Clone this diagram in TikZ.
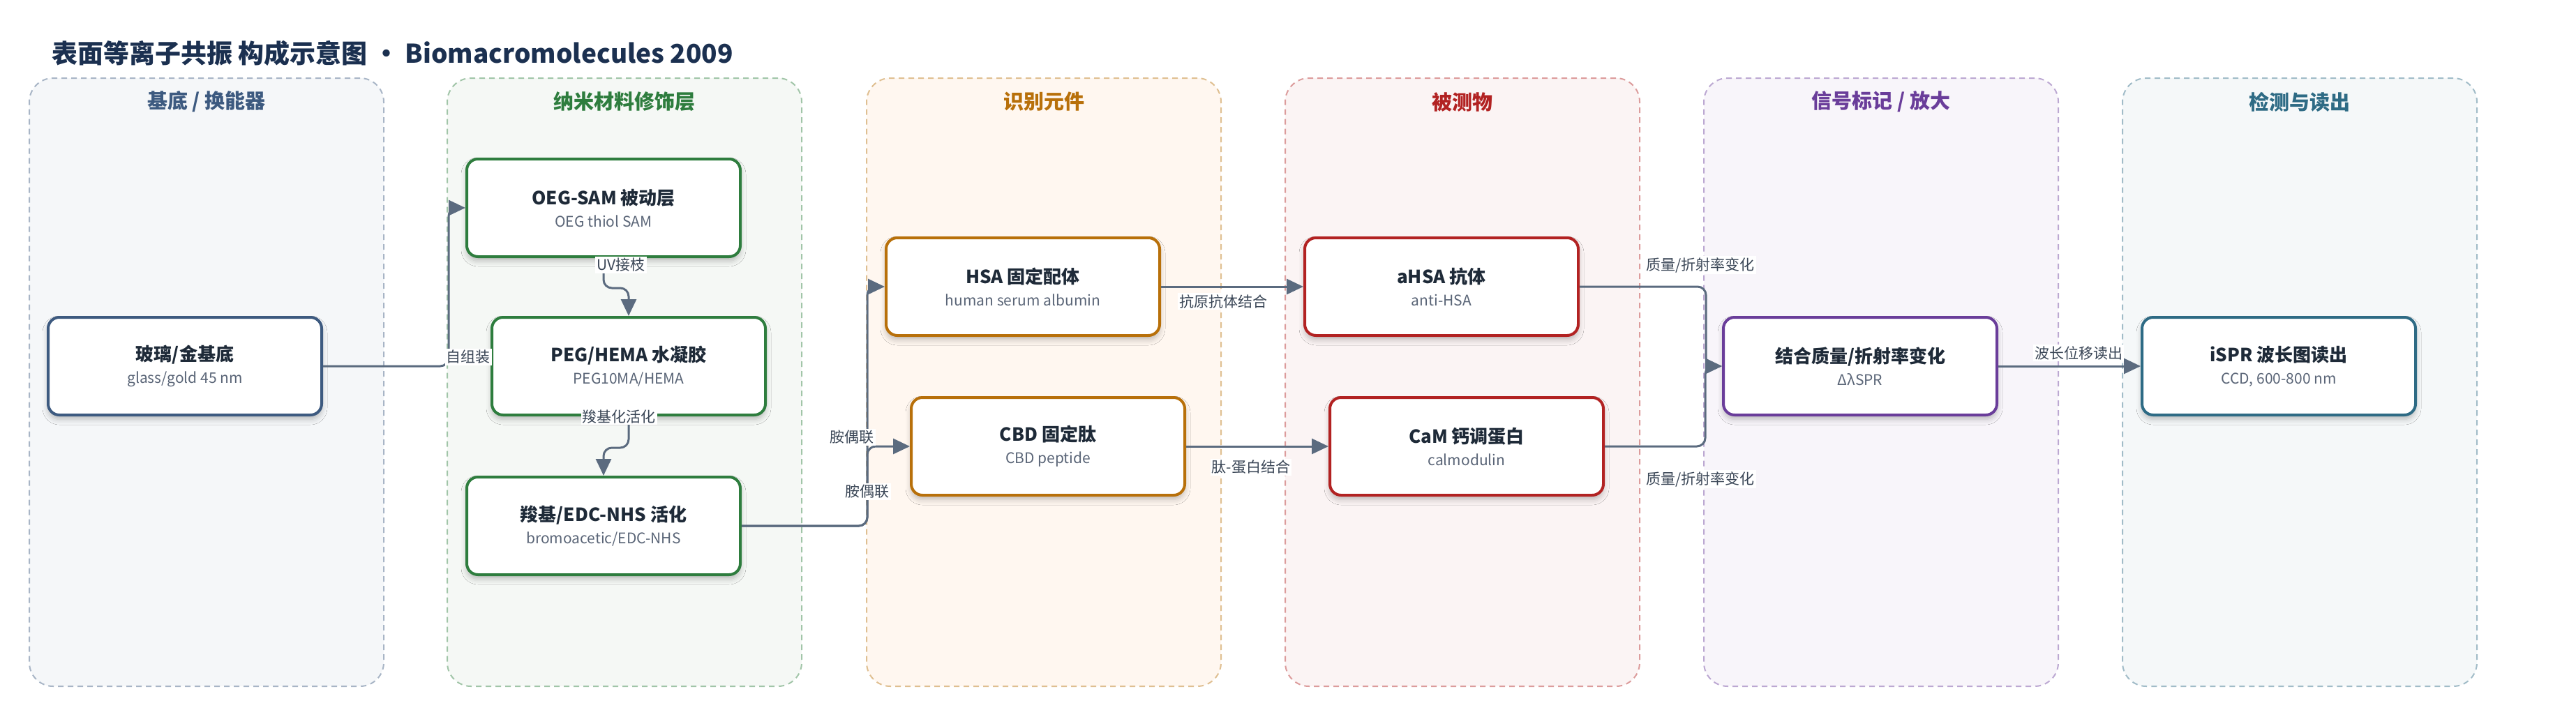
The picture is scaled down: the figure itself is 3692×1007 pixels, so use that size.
\documentclass[tikz,border=0pt]{standalone}
\usepackage{fontspec}
\setmainfont{Noto Sans CJK SC}
\usepackage{tikz}
\usetikzlibrary{arrows.meta,shadows.blur}

\definecolor{titleclr}{HTML}{1B3050}
\definecolor{inktitle}{HTML}{1E2A38}
\definecolor{inksub}{HTML}{5A6577}
\definecolor{inklabel}{HTML}{3A4656}
\definecolor{edgegray}{HTML}{5B6B7F}
\definecolor{substrateclr}{HTML}{3D5A80}
\definecolor{nanoclr}{HTML}{2E7D3E}
\definecolor{recogclr}{HTML}{B8700A}
\definecolor{analyteclr}{HTML}{B22222}
\definecolor{signalclr}{HTML}{6A3D9A}
\definecolor{readoutclr}{HTML}{2E6B85}

\newcommand{\boxtext}[2]{{\fontsize{26}{33}\selectfont\bfseries\color{inktitle}#1}\\{\color{inksub}#2}}

\begin{document}
\begin{tikzpicture}
    [
      x=1pt, y=-1pt,
      lane/.style={draw=#1!45, fill=#1!5, dash pattern=on 8pt off 6pt, line width=2pt, rounded corners=34pt, minimum width=508pt, minimum height=872pt},
      lanetitle/.style={text=#1, font=\fontsize{29}{34}\selectfont\bfseries},
      block/.style={draw=#1, fill=white, line width=4pt, rounded corners=16pt, minimum width=392pt, minimum height=140pt, align=center, font=\fontsize{21}{32}\selectfont, blur shadow={shadow xshift=0pt, shadow yshift=-6pt, shadow blur radius=8pt, shadow opacity=25}},
      post/.style={->, >={Triangle[length=24pt,width=22pt]}, line width=3pt, draw=edgegray, rounded corners=12pt},
      edgelabel/.style={fill=white, inner sep=2pt, text=inklabel, font=\fontsize{21}{24}\selectfont},
    ]

    \useasboundingbox (0,0) rectangle (3692,1007);

    \node (title) [anchor=west, inner sep=0pt, text=titleclr, font=\fontsize{37}{44}\selectfont\bfseries] at (74,76) {表面等离子共振 构成示意图 · Biomacromolecules 2009};

    \node (lane-substrate) [lane=substrateclr] at (296,548) {};
    \node (lane-nano) [lane=nanoclr] at (895,548) {};
    \node (lane-recog) [lane=recogclr, fill=orange!6] at (1496,548) {};
    \node (lane-analyte) [lane=analyteclr] at (2096,548) {};
    \node (lane-signal) [lane=signalclr] at (2696,548) {};
    \node (lane-readout) [lane=readoutclr] at (3296,548) {};

    \node (head-substrate) [lanetitle=substrateclr] at (296,146) {基底 / 换能器};
    \node (head-nano) [lanetitle=nanoclr] at (895,146) {纳米材料修饰层};
    \node (head-recog) [lanetitle=recogclr] at (1496,146) {识别元件};
    \node (head-analyte) [lanetitle=analyteclr] at (2096,146) {被测物};
    \node (head-signal) [lanetitle=signalclr] at (2696,146) {信号标记 / 放大};
    \node (head-readout) [lanetitle=readoutclr] at (3296,146) {检测与读出};

    \node (glass) [block=substrateclr] at (265,525) {\boxtext{玻璃/金基底}{glass/gold 45 nm}};

    \node (oeg-sam) [block=nanoclr] at (865,298) {\boxtext{OEG-SAM 被动层}{OEG thiol SAM}};

    \node (peg-hema) [block=nanoclr] at (901,525) {\boxtext{PEG/HEMA 水凝胶}{PEG10MA/HEMA}};

    \node (carboxyl) [block=nanoclr] at (865,754) {\boxtext{羧基/EDC-NHS 活化}{bromoacetic/EDC-NHS}};

    \node (hsa) [block=recogclr] at (1466,411) {\boxtext{HSA 固定配体}{human serum albumin}};

    \node (cbd) [block=recogclr] at (1502,640) {\boxtext{CBD 固定肽}{CBD peptide}};

    \node (ahsa) [block=analyteclr] at (2066,411) {\boxtext{aHSA 抗体}{anti-HSA}};

    \node (cam) [block=analyteclr] at (2102,640) {\boxtext{CaM 钙调蛋白}{calmodulin}};

    \node (binding) [block=signalclr] at (2666,525) {\boxtext{结合质量/折射率变化}{ΔλSPR}};

    \node (ispr) [block=readoutclr] at (3266,525) {\boxtext{iSPR 波长图读出}{CCD, 600-800 nm}};

    \draw [post] (glass.east) -- ++(180,0) |- (oeg-sam.west);
    \draw [post] (oeg-sam.south) -- ++(0,43) -| (peg-hema.north);
    \draw [post] (peg-hema.south) -- ++(0,45) -| (carboxyl.north);
    \draw [post] (carboxyl.east) -- ++(180,0) |- (hsa.west);
    \draw [post] (carboxyl.east) -- ++(180,0) |- (cbd.west);
    \draw [post] (ahsa.east) -- ++(181,0) |- (binding.west);
    \draw [post] (cam.east) -- ++(144,0) |- (binding.west);

    \path
    (hsa) edge [post] (ahsa)
    (cbd) edge [post] (cam)
    (binding) edge [post] (ispr)
    ;

    \node (lbl-assembly) [edgelabel] at (671,512) {自组装};
    \node (lbl-uv) [edgelabel] at (890,380) {UV接枝};
    \node (lbl-carboxy) [edgelabel] at (887,597) {羧基化活化};
    \node (lbl-amine-hsa) [edgelabel] at (1221,627) {胺偶联};
    \node (lbl-amine-cbd) [edgelabel] at (1243,705) {胺偶联};
    \node (lbl-antigen) [edgelabel] at (1753,432) {抗原抗体结合};
    \node (lbl-peptide) [edgelabel] at (1793,670) {肽-蛋白结合};
    \node (lbl-mass-ahsa) [edgelabel] at (2437,380) {质量/折射率变化};
    \node (lbl-mass-cam) [edgelabel] at (2437,687) {质量/折射率变化};
    \node (lbl-shift) [edgelabel] at (2979,506) {波长位移读出};

  \end{tikzpicture}
\end{document}
